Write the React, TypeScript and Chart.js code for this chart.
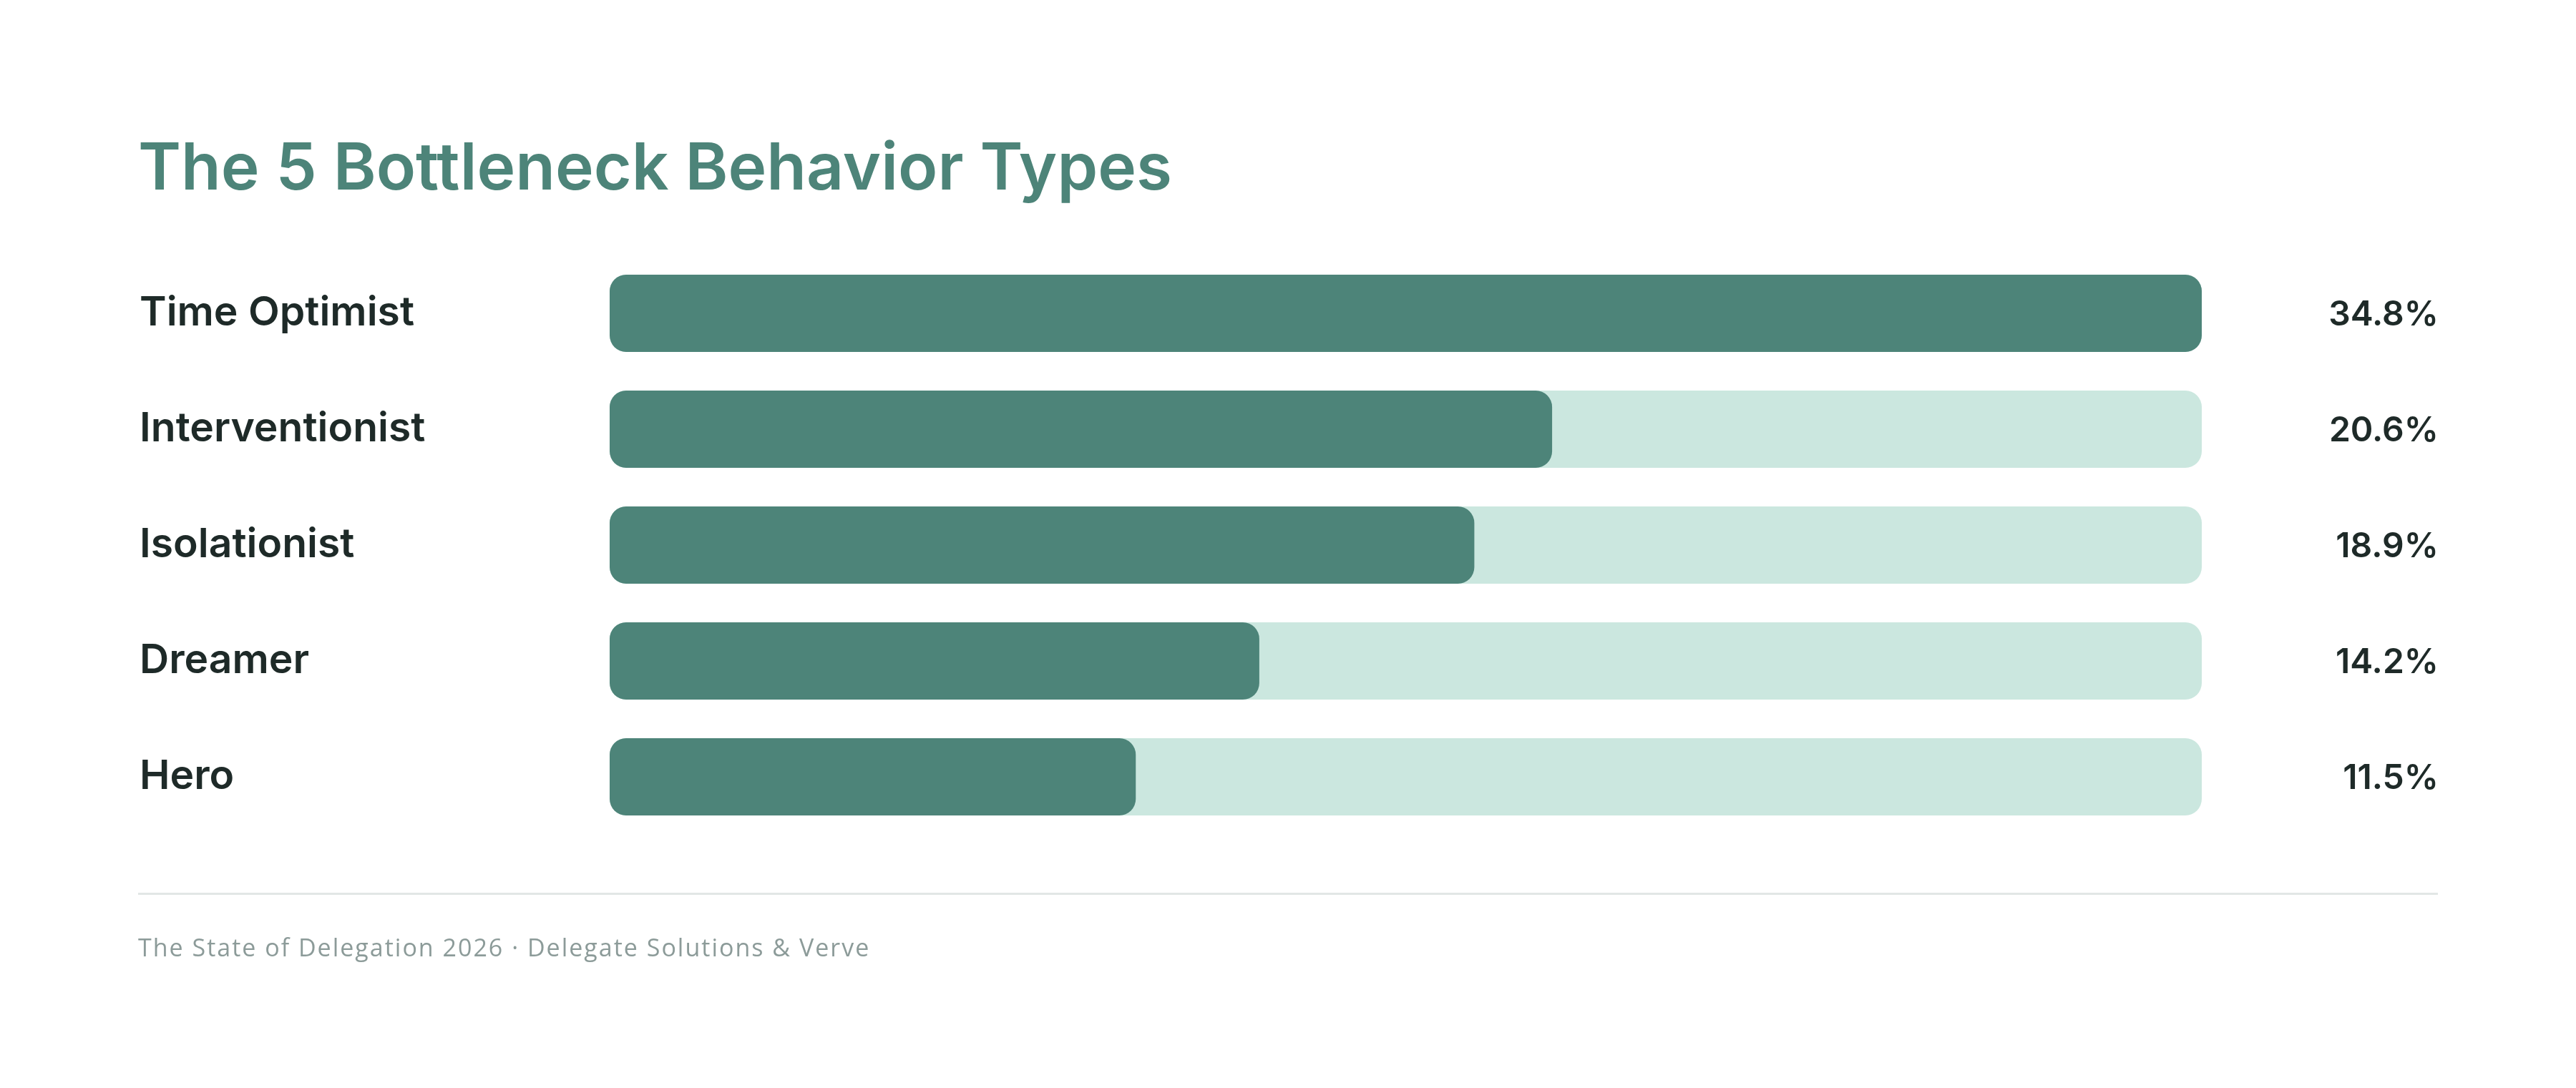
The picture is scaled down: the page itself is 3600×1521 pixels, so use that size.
import React, { useEffect, useRef } from 'react';
import { Chart, registerables } from 'chart.js';

Chart.register(...registerables);

// Behaviour types and their share of respondents (%)
const categories = ['Time Optimist', 'Interventionist', 'Isolationist', 'Dreamer', 'Hero'];
const shares = [34.8, 20.6, 18.9, 14.2, 11.5];
const shareLabels = shares.map((v) => `${v.toFixed(1)}%`);

const titleText = 'The 5 Bottleneck Behavior Types';
const footerText = 'The State of Delegation 2026 · Delegate Solutions & Verve';

// The pale track behind each bar runs to the largest share
const trackMax = Math.max(...shares);
const track = categories.map(() => trackMax);

const WIDTH = 3600;
const HEIGHT = 1521;
const GREEN = '#4d8479';
const MINT = '#cbe7df';
const INK = '#1e2a28';
const MUTED = '#8c9b99';
const RULE = '#e2e7e6';

const decorations = {
  id: 'decorations',
  afterDraw(chart: any) {
    const { ctx } = chart;
    const yScale = chart.scales.y;
    ctx.save();

    // heading
    ctx.font = '600 91px Inter';
    ctx.fillStyle = GREEN;
    ctx.textAlign = 'left';
    ctx.textBaseline = 'alphabetic';
    ctx.fillText(titleText, 193, 265);

    // value labels, right-aligned beside each track
    ctx.font = '600 48px Inter';
    ctx.fillStyle = INK;
    ctx.textAlign = 'right';
    shareLabels.forEach((t, i) => {
      ctx.fillText(t, 3408, yScale.getPixelForValue(i) + 17);
    });

    // divider above the source line
    ctx.strokeStyle = RULE;
    ctx.lineWidth = 3;
    ctx.beginPath();
    ctx.moveTo(193, 1249.5);
    ctx.lineTo(3407, 1249.5);
    ctx.stroke();

    // source line
    ctx.font = '400 34px "Open Sans"';
    ctx.fillStyle = MUTED;
    ctx.textAlign = 'left';
    try {
      (ctx as any).letterSpacing = '2px';
    } catch (e) {
      /* older canvas */
    }
    ctx.fillText(footerText, 193, 1337);

    ctx.restore();
  },
};

export default function App() {
  const canvasRef = useRef<HTMLCanvasElement | null>(null);

  useEffect(() => {
    const canvas = canvasRef.current;
    if (!canvas) return;
    const chart = new Chart(canvas, {
      type: 'bar',
      data: {
        labels: categories,
        datasets: [
          {
            label: 'Share',
            data: shares,
            backgroundColor: GREEN,
            borderRadius: 23,
            borderSkipped: false,
            grouped: false,
            order: 0,
            barPercentage: 0.667,
            categoryPercentage: 1,
          },
          {
            label: 'Track',
            data: track,
            backgroundColor: MINT,
            borderRadius: 23,
            borderSkipped: false,
            grouped: false,
            order: 1,
            barPercentage: 0.667,
            categoryPercentage: 1,
          },
        ],
      },
      options: {
        indexAxis: 'y',
        responsive: false,
        animation: false,
        devicePixelRatio: 1,
        layout: { padding: { top: 357, bottom: 354, left: 195, right: 523 } },
        plugins: {
          legend: { display: false },
          tooltip: { enabled: false },
          title: { display: false },
        },
        scales: {
          x: { display: false, min: 0, max: trackMax },
          y: {
            grid: { display: false },
            border: { display: false },
            ticks: {
              crossAlign: 'far',
              padding: 0,
              color: INK,
              font: { family: 'Inter', size: 57, weight: '600' },
            },
            afterFit: (scale: any) => {
              scale.width = 657;
            },
          },
        },
      },
      plugins: [decorations],
    } as any);
    return () => chart.destroy();
  }, []);

  return (
    <div style={{ position: 'absolute', left: 0, top: 0, width: WIDTH, height: HEIGHT, background: '#ffffff' }}>
      <canvas ref={canvasRef} width={WIDTH} height={HEIGHT} style={{ display: 'block', width: WIDTH, height: HEIGHT }} />
    </div>
  );
}
